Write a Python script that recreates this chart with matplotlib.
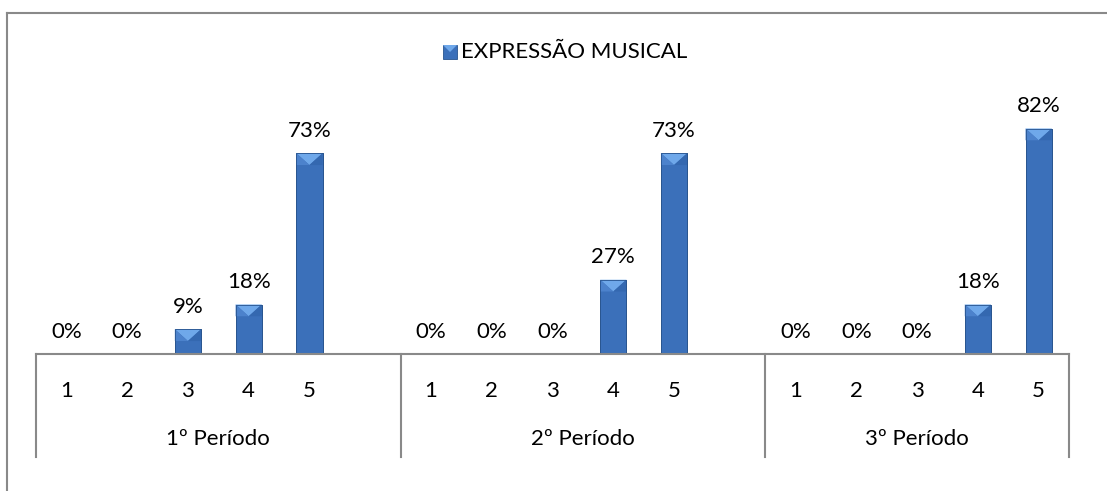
import matplotlib.pyplot as plt
from matplotlib.patches import Polygon, Rectangle
from matplotlib.lines import Line2D

plt.rcParams['font.family'] = ['Lato', 'DejaVu Sans']

periods = ['1º Período', '2º Período', '3º Período']
levels = ['1', '2', '3', '4', '5']
values = [
    [0.00, 0.00, 0.09, 0.18, 0.73],
    [0.00, 0.00, 0.00, 0.27, 0.73],
    [0.00, 0.00, 0.00, 0.18, 0.82],
]
series_name = 'EXPRESSÃO MUSICAL'

face = '#3B70BA'
edge_dark = '#28548F'
top_light = '#6FA8EA'
axis_gray = '#898989'
fs = 16

fig = plt.figure(figsize=(11.07, 4.91), dpi=100)
W, H = 1107, 491
ax = fig.add_axes([36 / W, (H - 354) / H, (1069 - 36) / W, 247.5 / H])

# slot positions: each period gets 5 levels, a blank slot separates periods
xs, ys = [], []
pos = 0
group_edges = []
for g, vals in enumerate(values):
    for v in vals:
        xs.append(pos)
        ys.append(v)
        pos += 1
    if g < len(values) - 1:
        group_edges.append(pos + 0.5)
        pos += 1
n_slots = pos

bw = 0.43
bars = ax.bar(xs, ys, width=bw, color=face, edgecolor=edge_dark, linewidth=0.6, zorder=2)
ax.set_xlim(-0.5, n_slots - 0.5)
ax.set_ylim(0, 0.9)
ax.axis('off')

# bevel on top of each bar: a lighter inverted triangle
to_disp = ax.transData
for b in bars:
    h = b.get_height()
    if h <= 0:
        continue
    x0 = b.get_x()
    x1 = x0 + b.get_width()
    px_w = to_disp.transform((x1, 0))[0] - to_disp.transform((x0, 0))[0]
    depth = to_disp.inverted().transform((0, to_disp.transform((0, 0))[1] + px_w * 0.45))[1]
    depth = min(depth, h)
    ax.add_patch(Polygon([(x0, h), (x1, h), ((x0 + x1) / 2, h - depth)],
                         closed=True, facecolor=top_light, edgecolor='none', zorder=3))
    ax.add_patch(Polygon([(x0, h), ((x0 + x1) / 2, h - depth), (x0, h - depth)],
                         closed=True, facecolor='#4C82CC', edgecolor='none', zorder=3))
    ax.add_patch(Polygon([(x1, h), ((x0 + x1) / 2, h - depth), (x1, h - depth)],
                         closed=True, facecolor='#3468B0', edgecolor='none', zorder=3))
    ax.add_patch(Rectangle((x0, 0), b.get_width(), h, facecolor='none',
                           edgecolor=edge_dark, linewidth=0.6, zorder=4))

# value labels
for x, v in zip(xs, ys):
    ax.annotate(f'{v:.0%}', (x, v), xytext=(0, 9), textcoords='offset points',
                ha='center', va='bottom', fontsize=fs, color='#000000')

# category axis with grouped labels
trans = ax.get_xaxis_transform()
ax.plot([-0.5, n_slots - 0.5], [0, 0], color=axis_gray, lw=1.5, transform=trans,
        clip_on=False, zorder=5)
for xe in [-0.5] + group_edges + [n_slots - 0.5]:
    ax.add_line(Line2D([xe, xe], [0, -103 / 247.5], color=axis_gray, lw=1.5,
                       transform=trans, clip_on=False))
for i, x in enumerate(xs):
    ax.text(x, -37 / 247.5, levels[i % len(levels)], transform=trans,
            ha='center', va='center', fontsize=fs)
starts = [-0.5] + group_edges
ends = group_edges + [n_slots - 0.5]
for p, s, e in zip(periods, starts, ends):
    ax.text((s + e) / 2, -85 / 247.5, p, transform=trans, ha='center', va='center', fontsize=fs)

# legend
lx, ly = 450, 52
fig.patches.append(Rectangle(((lx - 7) / W, (H - ly - 7) / H), 14 / W, 14 / H,
                             transform=fig.transFigure, facecolor=face, edgecolor=edge_dark, lw=0.6))
fig.patches.append(Polygon([((lx - 7) / W, (H - ly + 7) / H), ((lx + 7) / W, (H - ly + 7) / H),
                            (lx / W, (H - ly) / H)], closed=True, transform=fig.transFigure,
                           facecolor=top_light, edgecolor='none'))
fig.text((lx + 11) / W, (H - ly) / H, series_name, ha='left', va='center', fontsize=fs)

# chart frame
fig.add_artist(Line2D([6.5 / W, 6.5 / W], [0, (H - 12.5) / H], color=axis_gray, lw=1.5))
fig.add_artist(Line2D([6.5 / W, 1], [(H - 12.5) / H, (H - 12.5) / H], color=axis_gray, lw=1.5))

fig.savefig('out.png', dpi=100, facecolor='white')
